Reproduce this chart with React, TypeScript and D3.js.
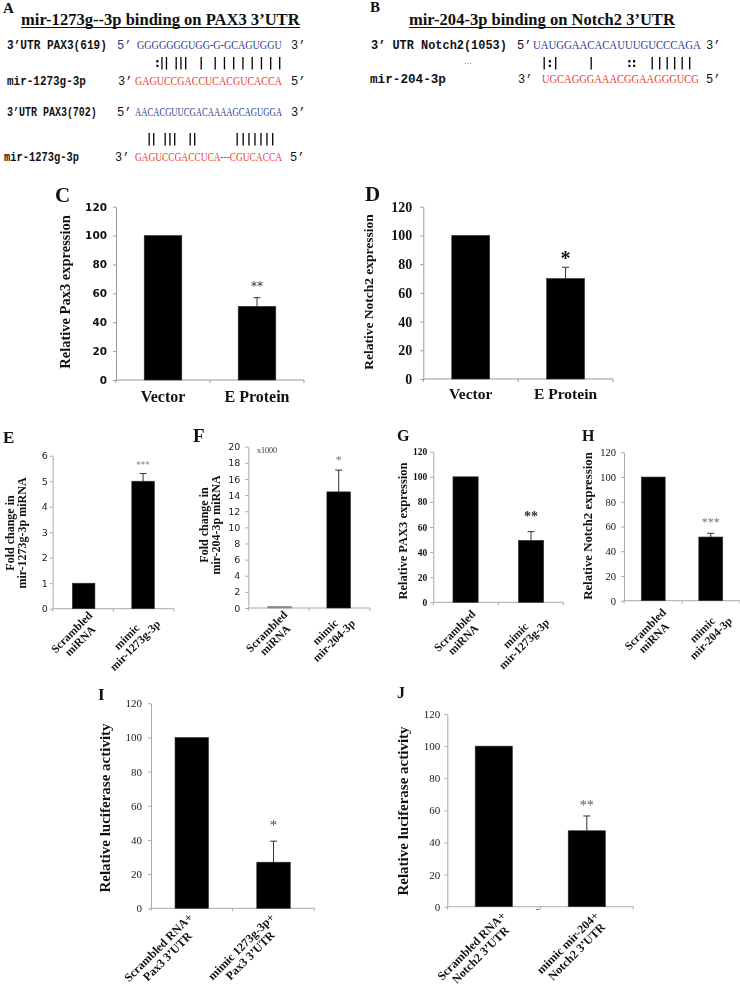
import React, { useEffect, useRef } from "react";
import * as d3 from "d3";

const W = 740;
const H = 986;

const SERIF = "'Liberation Serif', 'Times New Roman', serif";
const SANS = "'DejaVu Sans', Verdana, sans-serif";
const MONO = "'Liberation Mono', 'Courier New', monospace";
const BLUE = "#2b3c8e";
const RED = "#ee3a2c";

// ---------- Panels A / B : binding sites ----------
const aTitle = "mir-1273g--3p binding on PAX3 3’UTR";
const aSite1Label = "3’UTR PAX3(619)";
const aSite1Seq = "GGGGGGGUGG-G-GCAGUGGU";
const aPairs1 = [":||", "|||", "|", "||||||||"];
const aMirLabel = "mir-1273g-3p";
const aMirSeq1 = "GAGUCCGACCUCACGUCACCA";
const aSite2Label = "3’UTR PAX3(702)";
const aSite2Seq = "AACACGUUCGACAAAAGCAGUGGA";
const aPairs2 = ["||", "|||", "||", "|||||||"];
const aMirSeq2 = "GAGUCCGACCUCA---CGUCACCA";

const bTitle = "mir-204-3p binding on Notch2 3’UTR";
const bSiteLabel = "3’ UTR Notch2(1053)";
const bSiteSeq = "UAUGGAACACAUUUGUCCCAGA";
const bPairs = ["|:|", "|", "::", "||||||"];
const bMirLabel = "mir-204-3p";
const bMirSeq = "UGCAGGGAAACGGAAGGGUCG";

// ---------- Panel C ----------
const cCategories = [["Vector"], ["E Protein"]];
const cValues = [100, 51];
const cErrors = [0, 6];
const cStars = ["", "**"];
const cTicks = [0, 20, 40, 60, 80, 100, 120];
const cYLabel = ["Relative Pax3 expression"];

// ---------- Panel D ----------
const dCategories = [["Vector"], ["E Protein"]];
const dValues = [100, 70];
const dErrors = [0, 7.8];
const dStars = ["", "*"];
const dTicks = [0, 20, 40, 60, 80, 100, 120];
const dYLabel = ["Relative Notch2 expression"];

// ---------- Panel E ----------
const eCategories = [["Scrambled", "miRNA"], ["mimic", "mir-1273g-3p"]];
const eValues = [1, 5.0];
const eErrors = [0, 0.3];
const eStars = ["", "***"];
const eTicks = [0, 1, 2, 3, 4, 5, 6];
const eYLabel = ["Fold change in", "mir-1273g-3p miRNA"];

// ---------- Panel F ----------
const fCategories = [["Scrambled", "miRNA"], ["mimic", "mir-204-3p"]];
const fValues = [0.2, 14.4];
const fErrors = [0, 2.7];
const fStars = ["", "*"];
const fTicks = [0, 2, 4, 6, 8, 10, 12, 14, 16, 18, 20];
const fYLabel = ["Fold change in", "mir-204-3p miRNA"];
const fScaleNote = "x1000";

// ---------- Panel G ----------
const gCategories = [["Scrambled", "miRNA"], ["mimic", "mir-1273g-3p"]];
const gValues = [100, 49.4];
const gErrors = [0, 6.9];
const gStars = ["", "**"];
const gTicks = [0, 20, 40, 60, 80, 100, 120];
const gYLabel = ["Relative PAX3 expression"];

// ---------- Panel H ----------
const hCategories = [["Scrambled", "miRNA"], ["mimic", "mir-204-3p"]];
const hValues = [100, 51.5];
const hErrors = [0, 3];
const hStars = ["", "***"];
const hTicks = [0, 20, 40, 60, 80, 100, 120];
const hYLabel = ["Relative Notch2 expression"];

// ---------- Panel I ----------
const iCategories = [["Scrambled RNA+", "Pax3 3’UTR"], ["mimic 1273g-3p+", "Pax3 3’UTR"]];
const iValues = [100, 27];
const iErrors = [0, 12.3];
const iStars = ["", "*"];
const iTicks = [0, 20, 40, 60, 80, 100, 120];
const iYLabel = ["Relative luciferase activity"];

// ---------- Panel J ----------
const jCategories = [["Scrambled RNA+", "Notch2 3’UTR"], ["mimic mir-204+", "Notch2 3’UTR"]];
const jValues = [100, 47.3];
const jErrors = [0, 9.2];
const jStars = ["", "**"];
const jTicks = [0, 20, 40, 60, 80, 100, 120];
const jYLabel = ["Relative luciferase activity"];
const jStray = "-";

type Panel = {
  letter: string; lx: number; ly: number; ls: number;
  cats: string[][]; values: number[]; errors: number[]; stars: string[];
  ticks: number[]; yMax: number;
  x0: number; x1: number; yBase: number; yTop: number; inner: number; outer: number;
  tickFamily: string; tickSize: number; tickWeight: string; tickGap: number; tickColor: string;
  axisColor: string;
  ylabel: string[]; ylx: number[]; yly: number; yls: number;
  xmode: "flat" | "rot"; xls: number; xly?: number; rdx?: number; rdy?: number;
  starFamily: string; starSize: number; starWeight: string; starColor: string; starAbove: number;
};

const panels: Panel[] = [
  {
    letter: "C", lx: 55, ly: 202, ls: 21,
    cats: cCategories, values: cValues, errors: cErrors, stars: cStars, ticks: cTicks, yMax: 120,
    x0: 116, x1: 304, yBase: 380, yTop: 206.7, inner: 0.6, outer: 0.3,
    tickFamily: SANS, tickSize: 10.5, tickWeight: "bold", tickGap: 9, tickColor: "#111", axisColor: "#999",
    ylabel: cYLabel, ylx: [69.5], yly: 292, yls: 14.5,
    xmode: "flat", xls: 16, xly: 402,
    starFamily: SANS, starSize: 12, starWeight: "normal", starColor: "#333", starAbove: 14,
  },
  {
    letter: "D", lx: 365, ly: 201, ls: 21,
    cats: dCategories, values: dValues, errors: dErrors, stars: dStars, ticks: dTicks, yMax: 120,
    x0: 423.3, x1: 613, yBase: 379, yTop: 206.7, inner: 0.6, outer: 0.3,
    tickFamily: SERIF, tickSize: 14, tickWeight: "bold", tickGap: 11, tickColor: "#111", axisColor: "#999",
    ylabel: dYLabel, ylx: [373], yly: 292, yls: 13.5,
    xmode: "flat", xls: 15.5, xly: 399,
    starFamily: SERIF, starSize: 20, starWeight: "bold", starColor: "#111", starAbove: 12.7,
  },
  {
    letter: "E", lx: 3, ly: 443, ls: 17,
    cats: eCategories, values: eValues, errors: eErrors, stars: eStars, ticks: eTicks, yMax: 6,
    x0: 52.7, x1: 174, yBase: 608.7, yTop: 455.7, inner: 0.62, outer: 0.33,
    tickFamily: SANS, tickSize: 9.5, tickWeight: "normal", tickGap: 5, tickColor: "#222", axisColor: "#aaa",
    ylabel: eYLabel, ylx: [14, 25.5], yly: 533, yls: 12,
    xmode: "rot", xls: 11.5, rdx: 3, rdy: 1,
    starFamily: SANS, starSize: 9, starWeight: "normal", starColor: "#777", starAbove: 10,
  },
  {
    letter: "F", lx: 193, ly: 442, ls: 19,
    cats: fCategories, values: fValues, errors: fErrors, stars: fStars, ticks: fTicks, yMax: 20,
    x0: 248.3, x1: 370, yBase: 608, yTop: 446.7, inner: 0.6, outer: 0.33,
    tickFamily: SANS, tickSize: 9.5, tickWeight: "normal", tickGap: 8, tickColor: "#222", axisColor: "#aaa",
    ylabel: fYLabel, ylx: [208, 219.5], yly: 525, yls: 12,
    xmode: "rot", xls: 11.5, rdx: 2, rdy: 1,
    starFamily: SERIF, starSize: 12, starWeight: "normal", starColor: "#777", starAbove: 12,
  },
  {
    letter: "G", lx: 397, ly: 441, ls: 16,
    cats: gCategories, values: gValues, errors: gErrors, stars: gStars, ticks: gTicks, yMax: 120,
    x0: 433.3, x1: 563.3, yBase: 602.3, yTop: 451.7, inner: 0.615, outer: 0.3,
    tickFamily: SERIF, tickSize: 9.5, tickWeight: "bold", tickGap: 6, tickColor: "#111", axisColor: "#aaa",
    ylabel: gYLabel, ylx: [406.5], yly: 531, yls: 12.5,
    xmode: "rot", xls: 11.5, rdx: 4, rdy: 6,
    starFamily: SERIF, starSize: 14, starWeight: "bold", starColor: "#333", starAbove: 17.7,
  },
  {
    letter: "H", lx: 582, ly: 441, ls: 16,
    cats: hCategories, values: hValues, errors: hErrors, stars: hStars, ticks: hTicks, yMax: 120,
    x0: 624, x1: 740, yBase: 600.7, yTop: 452.3, inner: 0.584, outer: 0.3,
    tickFamily: SERIF, tickSize: 10.5, tickWeight: "normal", tickGap: 8, tickColor: "#111", axisColor: "#aaa",
    ylabel: hYLabel, ylx: [591.5], yly: 526, yls: 12.8,
    xmode: "rot", xls: 11.5, rdx: 7, rdy: 6,
    starFamily: SERIF, starSize: 12, starWeight: "normal", starColor: "#777", starAbove: 13,
  },
  {
    letter: "I", lx: 98, ly: 700, ls: 17,
    cats: iCategories, values: iValues, errors: iErrors, stars: iStars, ticks: iTicks, yMax: 120,
    x0: 151, x1: 314.3, yBase: 908.3, yTop: 703.3, inner: 0.59, outer: 0.294,
    tickFamily: SERIF, tickSize: 11, tickWeight: "normal", tickGap: 9, tickColor: "#222", axisColor: "#aaa",
    ylabel: iYLabel, ylx: [110], yly: 808, yls: 15,
    xmode: "rot", xls: 12, rdx: -5, rdy: 3,
    starFamily: SERIF, starSize: 15, starWeight: "normal", starColor: "#444", starAbove: 19,
  },
  {
    letter: "J", lx: 397, ly: 698, ls: 16,
    cats: jCategories, values: jValues, errors: jErrors, stars: jStars, ticks: jTicks, yMax: 120,
    x0: 447.3, x1: 633.3, yBase: 906.7, yTop: 714, inner: 0.6, outer: 0.3,
    tickFamily: SERIF, tickSize: 11, tickWeight: "normal", tickGap: 7, tickColor: "#222", axisColor: "#aaa",
    ylabel: jYLabel, ylx: [408], yly: 811, yls: 15,
    xmode: "rot", xls: 12, rdx: 6, rdy: 3,
    starFamily: SERIF, starSize: 14, starWeight: "normal", starColor: "#555", starAbove: 13,
  },
];

type Sel = d3.Selection<SVGGElement, unknown, null, undefined>;
type TOpt = { family: string; size: number; weight?: string; fill?: string; anchor?: string };

function txt(g: Sel, x: number, y: number, s: string, o: TOpt) {
  return g.append("text")
    .attr("x", x).attr("y", y)
    .attr("font-family", o.family)
    .attr("font-size", o.size)
    .attr("font-weight", o.weight || "normal")
    .attr("fill", o.fill || "#111")
    .attr("text-anchor", o.anchor || "start")
    .style("white-space", "pre")
    .text(s);
}

// text squeezed horizontally (glyphs scaled) to span a given width
function fit(g: Sel, x: number, y: number, s: string, len: number, o: TOpt) {
  const gg = g.append("g").attr("transform", `translate(${x},${y})`);
  const t = txt(gg as unknown as Sel, 0, 0, s, o);
  const w = (t.node() as SVGTextElement).getComputedTextLength() || len;
  t.attr("transform", `scale(${len / w},1)`);
  return t;
}

// glyphs kept, spacing widened to span a given width
function spaced(g: Sel, x: number, y: number, s: string, len: number, o: TOpt) {
  const t = txt(g, x, y, s, o);
  if (s.length > 1) {
    const w = (t.node() as SVGTextElement).getComputedTextLength();
    t.attr("letter-spacing", Math.max(0, (len - w) / (s.length - 1)));
  }
  return t;
}

function drawSequences(g: Sel, gm: Sel) {
  // Panel A
  txt(g, 3, 13, "A", { family: SERIF, size: 15, weight: "bold" });
  fit(g, 21, 25, aTitle, 279, { family: SERIF, size: 16, weight: "bold" });
  g.append("line").attr("x1", 21).attr("x2", 300).attr("y1", 27.5).attr("y2", 27.5).attr("stroke", "#111").attr("stroke-width", 1.1);

  const mono = { family: MONO, size: 12.5, weight: "bold" };
  const prime = { family: MONO, size: 12, weight: "normal" };
  const seq = { family: SERIF, size: 12 };
  const pair = { family: SANS, size: 12, weight: "bold", fill: "#000" };

  fit(g, 7, 49, aSite1Label, 100, mono);
  txt(g, 117, 49, "5’", { ...prime, fill: BLUE });
  fit(g, 137, 49, aSite1Seq, 145, { ...seq, fill: BLUE });
  txt(g, 291, 49, "3’", prime);
  const p1x = [[155, 13], [174, 14], [199, 2], [213, 69]];
  aPairs1.forEach((s, i) => spaced(gm, p1x[i][0], 67, s, p1x[i][1], pair));
  fit(g, 7, 85, aMirLabel, 79, mono);
  txt(g, 118, 85, "3’", prime);
  fit(g, 135, 85, aMirSeq1, 147, { ...seq, fill: RED });
  txt(g, 291, 85, "5’", prime);

  fit(g, 7, 116, aSite2Label, 90, mono);
  txt(g, 117, 116, "5’", prime);
  fit(g, 135, 116, aSite2Seq, 147, { ...seq, fill: BLUE });
  txt(g, 291, 116, "3’", prime);
  const p2x = [[147, 7], [163, 14], [188, 9], [235, 40]];
  aPairs2.forEach((s, i) => spaced(gm, p2x[i][0], 143, s, p2x[i][1], pair));
  fit(g, 4, 161, aMirLabel, 75, mono);
  txt(g, 115, 161, "3’", prime);
  fit(g, 135, 161, aMirSeq2, 147, { ...seq, fill: RED });
  txt(g, 290, 161, "5’", prime);

  // Panel B
  txt(g, 370, 12, "B", { family: SERIF, size: 15, weight: "bold" });
  fit(g, 409, 25, bTitle, 266, { family: SERIF, size: 16, weight: "bold" });
  g.append("line").attr("x1", 409).attr("x2", 675).attr("y1", 27.5).attr("y2", 27.5).attr("stroke", "#111").attr("stroke-width", 1.1);
  const monoB = { family: MONO, size: 12.5, weight: "bold" };
  fit(g, 371, 49, bSiteLabel, 136, monoB);
  txt(g, 517, 49, "5’", prime);
  fit(g, 533, 49, bSiteSeq, 168, { ...seq, fill: BLUE });
  txt(g, 706, 49, "3’", prime);
  txt(gm, 464, 64, "…", { family: SERIF, size: 8, fill: "#444" });
  const pbx = [[542, 16], [589, 2], [627, 8], [650, 42]];
  bPairs.forEach((s, i) => spaced(gm, pbx[i][0], 66.5, s, pbx[i][1], pair));
  fit(g, 370, 83, bMirLabel, 76, monoB);
  txt(g, 518, 83, "3’", prime);
  fit(g, 542, 83, bMirSeq, 157, { ...seq, fill: RED });
  txt(g, 706, 83, "5’", prime);
}

function drawPanel(root: Sel, p: Panel) {
  const g = root.append("g");
  const idx = p.values.map((_, i) => String(i));
  const x = d3.scaleBand<string>().domain(idx).range([p.x0, p.x1]).paddingInner(p.inner).paddingOuter(p.outer);
  const y = d3.scaleLinear().domain([0, p.yMax]).range([p.yBase, p.yTop]);
  const bw = x.bandwidth();

  // panel letter
  txt(g, p.lx, p.ly, p.letter, { family: SERIF, size: p.ls, weight: "bold" });

  // y axis
  const ya = g.append("g").attr("transform", `translate(${p.x0},0)`)
    .call(d3.axisLeft(y).tickValues(p.ticks).tickSize(3).tickSizeOuter(0).tickPadding(p.tickGap - 3).tickFormat(d3.format("d")));
  ya.select(".domain").attr("stroke", p.axisColor);
  ya.selectAll(".tick line").attr("stroke", p.axisColor);
  ya.selectAll(".tick text")
    .attr("font-family", p.tickFamily).attr("font-size", p.tickSize)
    .attr("font-weight", p.tickWeight).attr("fill", p.tickColor);

  // x axis
  g.append("line").attr("x1", p.x0).attr("x2", p.x1).attr("y1", p.yBase).attr("y2", p.yBase).attr("stroke", p.axisColor);
  const bounds = [p.x0, ...idx.slice(0, -1).map((k) => (x(k) as number) + bw + (x.step() * p.inner) / 2), p.x1];
  bounds.forEach((b) => {
    g.append("line").attr("x1", b).attr("x2", b).attr("y1", p.yBase).attr("y2", p.yBase + 3).attr("stroke", p.axisColor);
  });

  // bars
  g.selectAll("rect.bar").data(p.values).enter().append("rect")
    .attr("x", (_, i) => x(idx[i]) as number)
    .attr("y", (d) => y(d))
    .attr("width", bw)
    .attr("height", (d) => p.yBase - y(d))
    .attr("fill", (d) => (d < 1 ? "#888" : "#000"))
    .attr("stroke", (d) => (d < 1 ? "#888" : "#333"))
    .attr("stroke-width", 0.6);

  // error bars & stars
  p.values.forEach((v, i) => {
    const cx = (x(idx[i]) as number) + bw / 2;
    const e = p.errors[i];
    const top = y(v + e);
    if (e > 0) {
      g.append("line").attr("x1", cx).attr("x2", cx).attr("y1", y(v)).attr("y2", top).attr("stroke", "#333").attr("stroke-width", 1);
      g.append("line").attr("x1", cx - 3.5).attr("x2", cx + 3.5).attr("y1", top).attr("y2", top).attr("stroke", "#333").attr("stroke-width", 1);
    }
    if (p.stars[i]) {
      txt(g, cx, top - p.starAbove + 0.5 * p.starSize, p.stars[i], {
        family: p.starFamily, size: p.starSize, weight: p.starWeight, fill: p.starColor, anchor: "middle",
      });
    }
  });

  // y label
  p.ylabel.forEach((s, i) => {
    g.append("text")
      .attr("transform", `translate(${p.ylx[i]},${p.yly}) rotate(-90)`)
      .attr("text-anchor", "middle")
      .attr("font-family", SERIF).attr("font-size", p.yls).attr("font-weight", "bold").attr("fill", "#111")
      .text(s);
  });

  // x labels
  p.cats.forEach((lines, i) => {
    const cx = (x(idx[i]) as number) + bw / 2;
    if (p.xmode === "flat") {
      txt(g, cx, p.xly as number, lines.join(" "), { family: SERIF, size: p.xls, weight: "bold", anchor: "middle" });
    } else {
      const lg = g.append("g").attr("transform", `translate(${cx + (p.rdx || 0)},${p.yBase + (p.rdy || 0)}) rotate(-45)`);
      const ts = lines.map((s, k) =>
        lg.append("text").attr("y", p.xls * 0.8 + k * p.xls * 1.05)
          .attr("text-anchor", "middle")
          .attr("font-family", SERIF).attr("font-size", p.xls).attr("font-weight", "bold").attr("fill", "#111")
          .text(s)
      );
      const maxW = d3.max(ts, (t) => (t.node() as SVGTextElement).getComputedTextLength()) || 0;
      ts.forEach((t) => t.attr("x", -maxW / 2));
    }
  });
}

export default function App() {
  const ref = useRef<SVGSVGElement>(null);
  useEffect(() => {
    if (!ref.current) return;
    const svg = d3.select(ref.current);
    svg.selectAll("*").remove();
    svg.append("defs").append("filter").attr("id", "grayAA")
      .attr("x", 0).attr("y", 0).attr("width", W).attr("height", H)
      .attr("filterUnits", "userSpaceOnUse")
      .append("feColorMatrix").attr("type", "saturate").attr("values", 0);
    svg.append("rect").attr("width", W).attr("height", H).attr("fill", "#fff");
    const colorG = svg.append("g") as unknown as Sel;
    const grayG = svg.append("g").attr("filter", "url(#grayAA)") as unknown as Sel;
    drawSequences(colorG, grayG);
    panels.forEach((p) => drawPanel(grayG, p));
    // panel F scale note
    txt(grayG, 257, 453, fScaleNote, { family: SERIF, size: 8, fill: "#333" });
    // stray mark under panel J label
    txt(grayG, 536, 912, jStray, { family: SERIF, size: 10, fill: "#333" });
  }, []);
  return (
    <svg ref={ref} width={W} height={H}
      style={{ position: "absolute", left: 0, top: 0, background: "#fff" }} />
  );
}
